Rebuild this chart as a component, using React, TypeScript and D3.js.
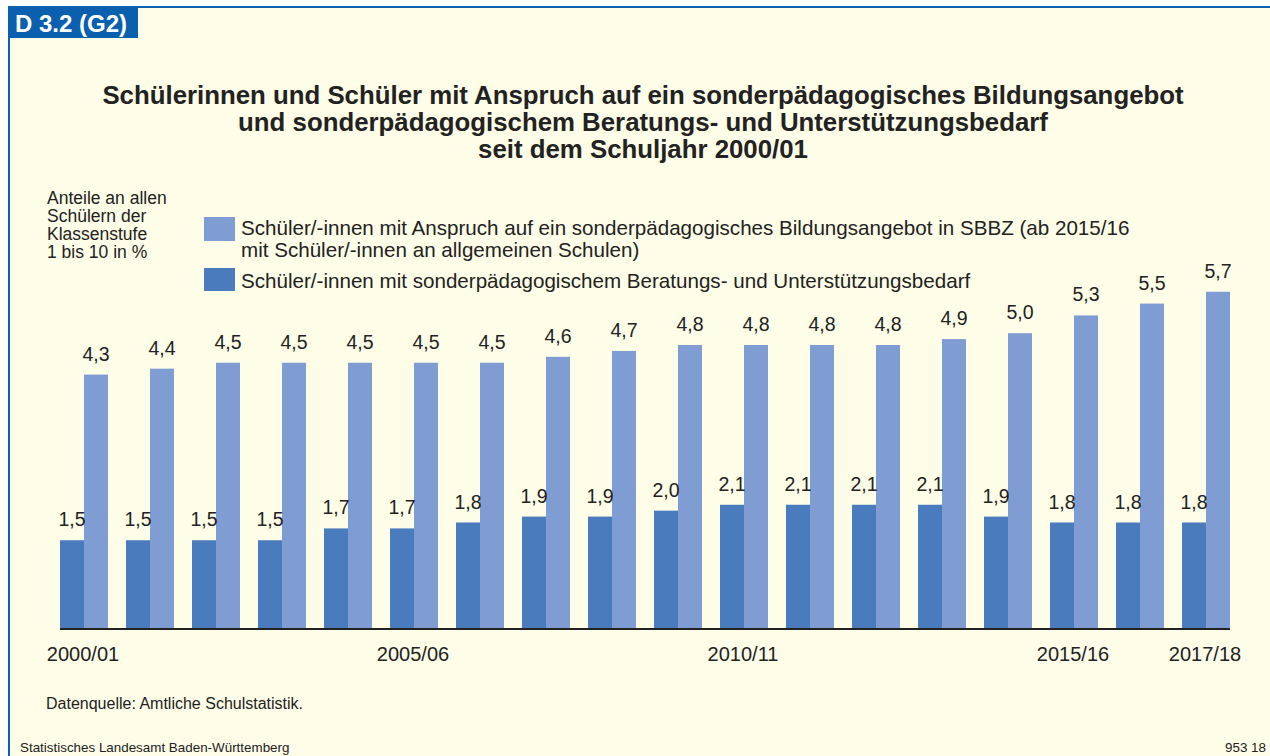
import React from 'react';
import * as d3 from 'd3';

const years = [
  '2000/01', '2001/02', '2002/03', '2003/04', '2004/05', '2005/06',
  '2006/07', '2007/08', '2008/09', '2009/10', '2010/11', '2011/12',
  '2012/13', '2013/14', '2014/15', '2015/16', '2016/17', '2017/18',
];
const beratung = [1.5, 1.5, 1.5, 1.5, 1.7, 1.7, 1.8, 1.9, 1.9, 2.0, 2.1, 2.1, 2.1, 2.1, 1.9, 1.8, 1.8, 1.8];
const anspruch = [4.3, 4.4, 4.5, 4.5, 4.5, 4.5, 4.5, 4.6, 4.7, 4.8, 4.8, 4.8, 4.8, 4.9, 5.0, 5.3, 5.5, 5.7];
const shownTicks = ['2000/01', '2005/06', '2010/11', '2015/16', '2017/18'];

const titleLines = [
  'Schülerinnen und Schüler mit Anspruch auf ein sonderpädagogisches Bildungsangebot',
  'und sonderpädagogischem Beratungs- und Unterstützungsbedarf',
  'seit dem Schuljahr 2000/01',
];
const yLabel = ['Anteile an allen', 'Schülern der', 'Klassenstufe', '1 bis 10 in %'];

const W = 1270;
const H = 756;
const BLUE = '#0a5fae';
const DARK = '#4a7bbd';
const LIGHT = '#7f9dd3';
const BG = '#fefde7';
const TXT = '#222';
const FONT = '"Liberation Sans", Arial, sans-serif';

const fmt = (v: number) => v.toFixed(1).replace('.', ',');

export default function App() {
  const base = 629;
  const x = d3.scaleBand<string>().domain(years).range([60, 1230]).paddingInner(18 / 66).paddingOuter(0);
  const sub = d3.scaleBand<string>().domain(['b', 'a']).range([0, x.bandwidth()]);
  const y = d3.scaleLinear().domain([0, 6]).range([base, 274]);

  return (
    <svg width={W} height={H} style={{ position: 'absolute', left: 0, top: 0 }} fontFamily={FONT}>
      <rect x={9} y={7} width={W - 9} height={H - 7} fill={BG} />
      <line x1={8} x2={W} y1={7} y2={7} stroke={BLUE} strokeWidth={2} />
      <line x1={9} x2={9} y1={6} y2={H} stroke={BLUE} strokeWidth={2} />
      <rect x={8} y={6} width={130} height={32} fill={BLUE} />
      <text x={15} y={32} fill="#fff" fontSize={24} fontWeight="bold">D 3.2 (G2)</text>

      {titleLines.map((t, i) => (
        <text key={i} x={643} y={104 + i * 27} textAnchor="middle" fontSize={25.8} fontWeight="bold" fill={TXT}>{t}</text>
      ))}

      {yLabel.map((t, i) => (
        <text key={i} x={47} y={204 + i * 18} fontSize={17.5} fill={TXT}>{t}</text>
      ))}

      <rect x={204} y={217} width={31} height={24} fill={LIGHT} />
      <text x={241} y={235} fontSize={20.6} fill={TXT}>Schüler/-innen mit Anspruch auf ein sonderpädagogisches Bildungsangebot in SBBZ (ab 2015/16</text>
      <text x={241} y={257} fontSize={20.6} fill={TXT}>mit Schüler/-innen an allgemeinen Schulen)</text>
      <rect x={204} y={268} width={31} height={23} fill={DARK} />
      <text x={241} y={288} fontSize={20.6} fill={TXT}>Schüler/-innen mit sonderpädagogischem Beratungs- und Unterstützungsbedarf</text>

      {years.map((yr, i) => {
        const gx = x(yr) as number;
        const bx = gx + (sub('b') as number);
        const ax = gx + (sub('a') as number);
        const bw = sub.bandwidth();
        return (
          <g key={yr}>
            <rect x={bx} y={y(beratung[i])} width={bw} height={base - y(beratung[i])} fill={DARK} />
            <rect x={ax} y={y(anspruch[i])} width={bw} height={base - y(anspruch[i])} fill={LIGHT} />
            <text x={bx + bw / 2} y={y(beratung[i]) - 14} textAnchor="middle" fontSize={19.5} fill={TXT}>{fmt(beratung[i])}</text>
            <text x={ax + bw / 2} y={y(anspruch[i]) - 14} textAnchor="middle" fontSize={19.5} fill={TXT}>{fmt(anspruch[i])}</text>
          </g>
        );
      })}

      <line x1={60} x2={1230} y1={base} y2={base} stroke={TXT} strokeWidth={2} />
      {shownTicks.map((t) => (
        <text key={t} x={(x(t) as number) + x.bandwidth() / 2 - 1} y={661} textAnchor="middle" fontSize={20} fill={TXT}>{t}</text>
      ))}

      <text x={46} y={709} fontSize={16} fill={TXT}>Datenquelle: Amtliche Schulstatistik.</text>
      <text x={20} y={752} fontSize={13.4} fill={TXT}>Statistisches Landesamt Baden-Württemberg</text>
      <text x={1266} y={752} textAnchor="end" fontSize={13.4} fill={TXT}>953 18</text>
    </svg>
  );
}
